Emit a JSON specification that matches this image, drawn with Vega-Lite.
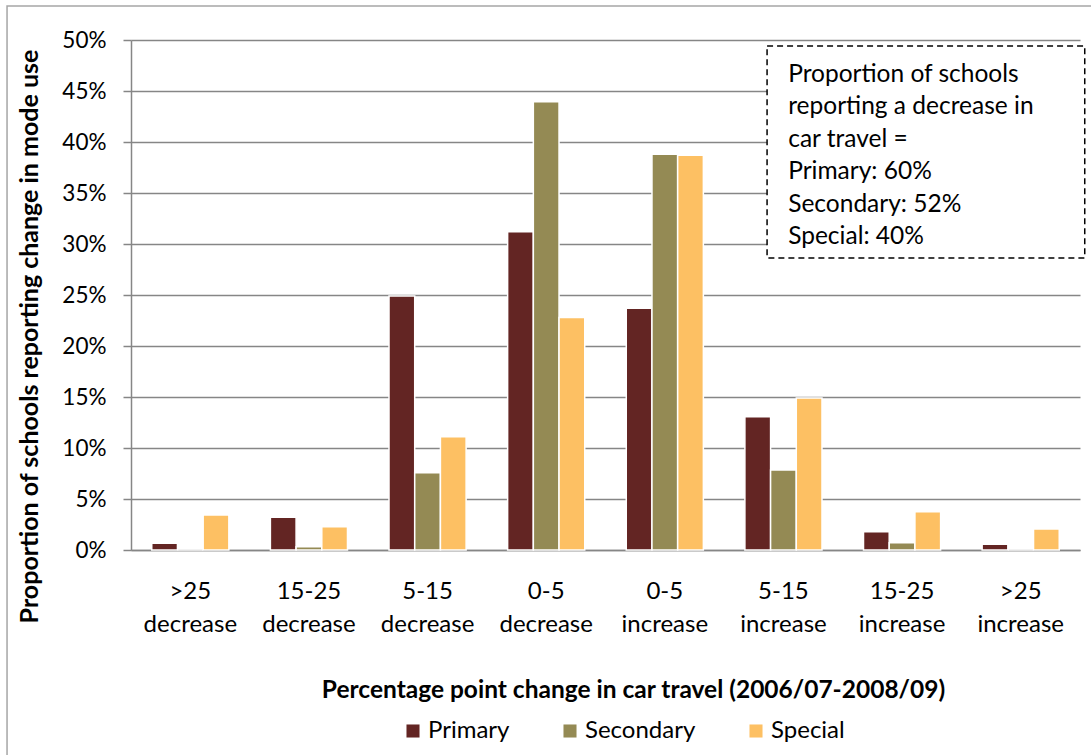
{
  "$schema": "https://vega.github.io/schema/vega-lite/v6.json",
  "width": 949,
  "height": 510,
  "autosize": {"type": "none"},
  "padding": {"left": 131, "top": 40, "right": 11, "bottom": 205},
  "background": "white",
  "config": {"font": "Lato", "view": {"stroke": null}},
  "datasets": {
    "modeShare": [
      {"change": ">25 decrease", "school": "Primary", "share": 0.0066},
      {"change": ">25 decrease", "school": "Secondary", "share": 0},
      {"change": ">25 decrease", "school": "Special", "share": 0.0343},
      {"change": "15-25 decrease", "school": "Primary", "share": 0.032},
      {"change": "15-25 decrease", "school": "Secondary", "share": 0.0033},
      {"change": "15-25 decrease", "school": "Special", "share": 0.0229},
      {"change": "5-15 decrease", "school": "Primary", "share": 0.249},
      {"change": "5-15 decrease", "school": "Secondary", "share": 0.0758},
      {"change": "5-15 decrease", "school": "Special", "share": 0.111},
      {"change": "0-5 decrease", "school": "Primary", "share": 0.312},
      {"change": "0-5 decrease", "school": "Secondary", "share": 0.4395},
      {"change": "0-5 decrease", "school": "Special", "share": 0.228},
      {"change": "0-5 increase", "school": "Primary", "share": 0.237},
      {"change": "0-5 increase", "school": "Secondary", "share": 0.388},
      {"change": "0-5 increase", "school": "Special", "share": 0.387},
      {"change": "5-15 increase", "school": "Primary", "share": 0.1307},
      {"change": "5-15 increase", "school": "Secondary", "share": 0.0784},
      {"change": "5-15 increase", "school": "Special", "share": 0.149},
      {"change": "15-25 increase", "school": "Primary", "share": 0.018},
      {"change": "15-25 increase", "school": "Secondary", "share": 0.0072},
      {"change": "15-25 increase", "school": "Special", "share": 0.0376},
      {"change": ">25 increase", "school": "Primary", "share": 0.0056},
      {"change": ">25 increase", "school": "Secondary", "share": 0},
      {"change": ">25 increase", "school": "Special", "share": 0.0206}
    ],
    "frame": [
      {"left": -1.045, "right": 8.2, "top": 0.5333, "bottom": -0.25}
    ],
    "noteBox": [
      {"left": 5.362, "right": 8.04, "top": 0.4941, "bottom": 0.2863}
    ],
    "noteText": [
      {"pos": 5.54, "share": 0.4657, "lines": ["Proportion of schools", "reporting a decrease in", "car travel =", "Primary: 60%", "Secondary: 52%", "Special: 40%"]}
    ]
  },
  "layer": [
    {
      "data": {"name": "frame"},
      "mark": {"type": "rect", "fill": null, "stroke": "#a6a6a6", "strokeWidth": 1.5},
      "encoding": {
        "x": {"field": "left", "type": "quantitative", "scale": {"domain": [0, 8], "nice": false, "zero": false}, "axis": null},
        "x2": {"field": "right"},
        "y": {"field": "top", "type": "quantitative", "axis": null},
        "y2": {"field": "bottom"}
      }
    },
    {
      "data": {"name": "modeShare"},
      "mark": {"type": "bar", "stroke": "white", "strokeWidth": 1.5},
      "encoding": {
        "x": {
          "field": "change",
          "type": "nominal",
          "sort": [">25 decrease", "15-25 decrease", "5-15 decrease", "0-5 decrease", "0-5 increase", "5-15 increase", "15-25 increase", ">25 increase"],
          "scale": {"paddingInner": 0.35, "paddingOuter": 0.175},
          "axis": {
            "title": "Percentage point change in car travel (2006/07-2008/09)",
            "labelAngle": 0,
            "labelExpr": "split(datum.label, ' ')",
            "labelFontSize": 24,
            "labelLineHeight": 33,
            "labelBaseline": "top",
            "labelPadding": 29,
            "labelColor": "black",
            "ticks": false,
            "domainColor": "#868686",
            "domainWidth": 1.5,
            "grid": false,
            "titleFontSize": 24.5,
            "titleFontWeight": "bold",
            "titleColor": "black",
            "titleX": 502,
            "titleY": 140,
            "titleAlign": "center",
            "titleBaseline": "middle"
          }
        },
        "xOffset": {
          "field": "school",
          "type": "nominal",
          "sort": ["Primary", "Secondary", "Special"],
          "scale": {"paddingInner": 0, "paddingOuter": 0}
        },
        "y": {
          "field": "share",
          "type": "quantitative",
          "scale": {"domain": [0, 0.5], "nice": false},
          "axis": {
            "title": "Proportion  of schools reporting change in mode use",
            "format": ".0%",
            "values": [0, 0.05, 0.1, 0.15, 0.2, 0.25, 0.3, 0.35, 0.4, 0.45, 0.5],
            "grid": true,
            "gridColor": "#868686",
            "gridWidth": 1.5,
            "domainColor": "#868686",
            "domainWidth": 1.5,
            "tickColor": "#868686",
            "tickWidth": 1.5,
            "tickSize": 8,
            "labelPadding": 17,
            "labelFontSize": 22.5,
            "labelColor": "black",
            "titleFontSize": 25,
            "titleFontWeight": "bold",
            "titleColor": "black",
            "titleX": -102,
            "titleY": 296,
            "titleAlign": "center",
            "titleBaseline": "middle"
          }
        },
        "color": {
          "field": "school",
          "type": "nominal",
          "scale": {"domain": ["Primary", "Secondary", "Special"], "range": ["#632523", "#948A54", "#FDC063"]},
          "legend": {
            "orient": "none",
            "legendX": 270,
            "legendY": 679,
            "direction": "horizontal",
            "title": null,
            "symbolType": "square",
            "symbolSize": 170,
            "symbolStrokeWidth": 0,
            "labelFontSize": 24,
            "labelColor": "black",
            "labelOffset": 3,
            "columnPadding": 48
          }
        }
      }
    },
    {
      "data": {"name": "noteBox"},
      "mark": {"type": "rect", "fill": "white", "stroke": "black", "strokeWidth": 1.5, "strokeDash": [6, 4]},
      "encoding": {
        "x": {"field": "left", "type": "quantitative", "scale": {"domain": [0, 8], "nice": false, "zero": false}, "axis": null},
        "x2": {"field": "right"},
        "y": {"field": "top", "type": "quantitative", "axis": null},
        "y2": {"field": "bottom"}
      }
    },
    {
      "data": {"name": "noteText"},
      "mark": {"type": "text", "align": "left", "baseline": "middle", "fontSize": 24.5, "lineHeight": 32.5, "color": "black"},
      "encoding": {
        "x": {"field": "pos", "type": "quantitative", "scale": {"domain": [0, 8], "nice": false, "zero": false}, "axis": null},
        "y": {"field": "share", "type": "quantitative", "axis": null},
        "text": {"field": "lines", "type": "nominal"}
      }
    }
  ],
  "resolve": {"scale": {"x": "independent"}, "axis": {"y": "independent"}}
}
